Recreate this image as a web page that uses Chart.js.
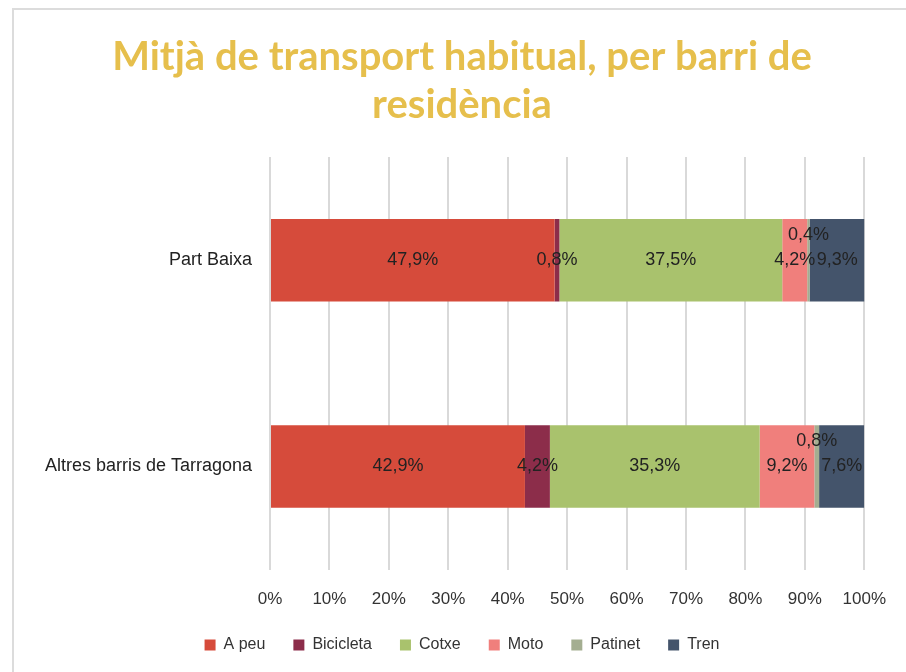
<!DOCTYPE html>
<html>
<head>
<meta charset="utf-8">
<script src="https://cdn.jsdelivr.net/npm/chart.js@4"></script>
<style>
  body { margin: 0; background: #fff; }
  .frame { position: absolute; left: 12px; top: 8px; width: 900px; height: 670px; border-left: 2px solid #dcdcdc; border-top: 2px solid #dcdcdc; }
  .wrap { position: absolute; left: 0; top: 0; width: 906px; height: 672px; }
</style>
</head>
<body>
<div class="frame"></div>
<div class="wrap"><canvas id="myChart" width="906" height="672"></canvas></div>
<script>
// data
const labels = ['Part Baixa', 'Altres barris de Tarragona'];
const apeu = [47.9, 42.9];
const bicicleta = [0.8, 4.2];
const cotxe = [37.5, 35.3];
const moto = [4.2, 9.2];
const patinet = [0.4, 0.8];
const tren = [9.3, 7.6];
const ticks = [0, 10, 20, 30, 40, 50, 60, 70, 80, 90, 100];

const fmt = v => v.toFixed(1).replace('.', ',') + '%';
const FONT = '"Liberation Sans", Arial, sans-serif';

// labels drawn on the bars (like excel data labels)
const barLabels = {
    id: 'barLabels',
    afterDatasetsDraw(chart) {
        const ctx = chart.ctx;
        ctx.save();
        ctx.font = '18px ' + FONT;
        ctx.fillStyle = '#222';
        ctx.textAlign = 'center';
        ctx.textBaseline = 'middle';
        chart.data.datasets.forEach((ds, i) => {
            const meta = chart.getDatasetMeta(i);
            meta.data.forEach((bar, j) => {
                const x = (bar.x + bar.base) / 2;
                let y = bar.y;
                if (ds.raise) y -= 25;  // small slices: label sits above the others
                ctx.fillText(fmt(ds.data[j]), x, y);
            });
        });
        ctx.restore();
    }
};

var ctx = document.getElementById('myChart').getContext('2d');
var chart = new Chart(ctx, {
    type: 'bar',
    data: {
        labels: labels,
        datasets: [
            { label: 'A peu', data: apeu, backgroundColor: '#D64B3B' },
            { label: 'Bicicleta', data: bicicleta, backgroundColor: '#8C2D4A' },
            { label: 'Cotxe', data: cotxe, backgroundColor: '#A9C26D' },
            { label: 'Moto', data: moto, backgroundColor: '#F07F7C' },
            { label: 'Patinet', data: patinet, backgroundColor: '#A4AE91', raise: true },
            { label: 'Tren', data: tren, backgroundColor: '#44546B' }
        ]
    },
    options: {
        indexAxis: 'y',
        responsive: false,
        animation: false,
        categoryPercentage: 0.8,
        barPercentage: 0.5,
        layout: { padding: { top: 18, left: 18, right: 0, bottom: 9 } },
        scales: {
            x: {
                stacked: true,
                min: 0,
                max: 100,
                afterBuildTicks: axis => { axis.ticks = ticks.map(v => ({ value: v })); },
                afterFit: axis => { axis.height -= 21; },
                ticks: {
                    callback: v => v + '%',
                    color: '#333',
                    font: { size: 17, family: FONT },
                    padding: 20
                },
                grid: { color: '#d9d9d9', lineWidth: 2, drawTicks: false },
                border: { display: false }
            },
            y: {
                stacked: true,
                afterFit: axis => { axis.width = 252; },
                ticks: {
                    color: '#222',
                    font: { size: 18, family: FONT },
                    padding: 10
                },
                grid: { display: false },
                border: { display: false }
            },
            // empty axis on the right, keeps the white margin there
            spacer: {
                type: 'linear',
                position: 'right',
                afterFit: axis => { axis.width = 38; },
                ticks: { display: false },
                grid: { display: false },
                border: { display: false }
            }
        },
        plugins: {
            title: {
                display: true,
                text: ['Mitjà de transport habitual, per barri de', 'residència'],
                color: '#E6BF4C',
                font: { size: 40, weight: 'bold', family: 'Lato, sans-serif', lineHeight: 1.2 },
                padding: { top: 15, bottom: 28 }
            },
            legend: {
                position: 'bottom',
                labels: {
                    boxWidth: 11,
                    boxHeight: 11,
                    color: '#333',
                    font: { size: 16, family: FONT },
                    padding: 28
                }
            },
            tooltip: { enabled: false }
        }
    },
    plugins: [barLabels]
});
</script>
</body>
</html>
